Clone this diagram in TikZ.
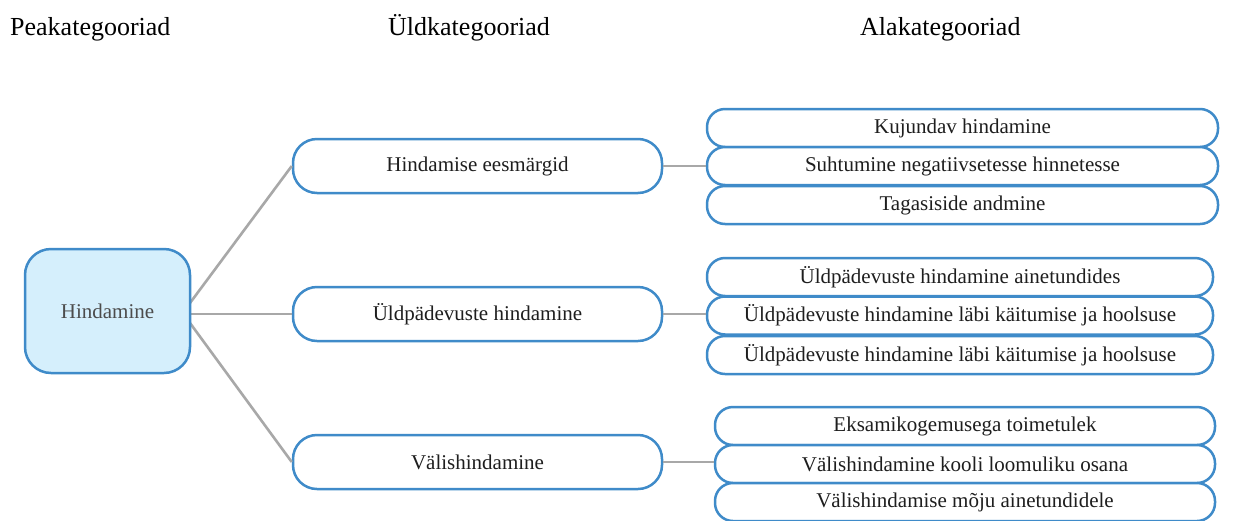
\documentclass[tikz,border=0pt]{standalone}
\usepackage{fontspec}
\setmainfont{Liberation Serif}
\usetikzlibrary{calc}
\definecolor{bord}{HTML}{3F8BC9}
\definecolor{mainfill}{HTML}{D5EFFC}
\definecolor{conn}{HTML}{A8A8A8}
\definecolor{txt}{HTML}{1E1E1E}
\tikzset{
  head/.style={anchor=base west, inner sep=0pt, font=\fontsize{26}{28}\selectfont, text=black},
  mainbox/.style={draw=bord, fill=mainfill, line width=2.5pt, rounded corners=26pt,
    minimum width=165pt, minimum height=124pt, inner sep=0pt, text=black!70,
    font=\fontsize{21}{24}\selectfont},
  midbox/.style={draw=bord, fill=white, line width=2.5pt, rounded corners=24pt,
    minimum width=369pt, minimum height=54pt, inner sep=0pt, text=txt,
    font=\fontsize{21}{24}\selectfont},
  subbox/.style={draw=bord, fill=white, line width=2.5pt, rounded corners=18pt,
    minimum height=38pt, inner sep=0pt, text=txt,
    font=\fontsize{21}{24}\selectfont},
  conline/.style={draw=conn, line width=2.6pt},
}
\begin{document}
\begin{tikzpicture}[x=1pt,y=-1pt]
\useasboundingbox (0,0) rectangle (1234,520);
\fill[white] (0,0) rectangle (1234,520);
\node[head] (h1) at (10,35) {Peakategooriad};
\node[head] (h2) at (388,35) {Üldkategooriad};
\node[head] (h3) at (860,35) {Alakategooriad};

\coordinate (mA) at (190,303);
\coordinate (mB) at (190,314);
\coordinate (mC) at (190,323);

\node[midbox] (m1) at (477.5,166) {Hindamise eesmärgid};
\node[midbox] (m2) at (477.5,314) {Üldpädevuste hindamine};
\node[midbox] (m3) at (477.5,462) {Välishindamine};

\draw[conline] (mA) -- (m1.west);
\draw[conline] (mB) -- (m2.west);
\draw[conline] (mC) -- (m3.west);

\node[mainbox] (main) at (107.5,311) {Hindamine};

\node[subbox, minimum width=511pt] (r11) at (962.5,128) {Kujundav hindamine};
\node[subbox, minimum width=511pt] (r12) at (962.5,166) {Suhtumine negatiivsetesse hinnetesse};
\node[subbox, minimum width=511pt] (r13) at (962.5,205) {Tagasiside andmine};

\node[subbox, minimum width=506pt] (r21) at (960,277) {Üldpädevuste hindamine ainetundides};
\node[subbox, minimum width=506pt] (r22) at (960,315.5) {Üldpädevuste hindamine läbi käitumise ja hoolsuse};
\node[subbox, minimum width=506pt] (r23) at (960,355) {Üldpädevuste hindamine läbi käitumise ja hoolsuse};

\node[subbox, minimum width=500pt] (r31) at (965,426) {Eksamikogemusega toimetulek};
\node[subbox, minimum width=500pt] (r32) at (965,464) {Välishindamine kooli loomuliku osana};
\node[subbox, minimum width=500pt] (r33) at (965,502) {Välishindamise mõju ainetundidele};

\draw[conline] (m1.east) -- (m1.east -| r12.west);
\draw[conline] (m2.east) -- (m2.east -| r22.west);
\draw[conline] (m3.east) -- (m3.east -| r32.west);
\end{tikzpicture}
\end{document}
